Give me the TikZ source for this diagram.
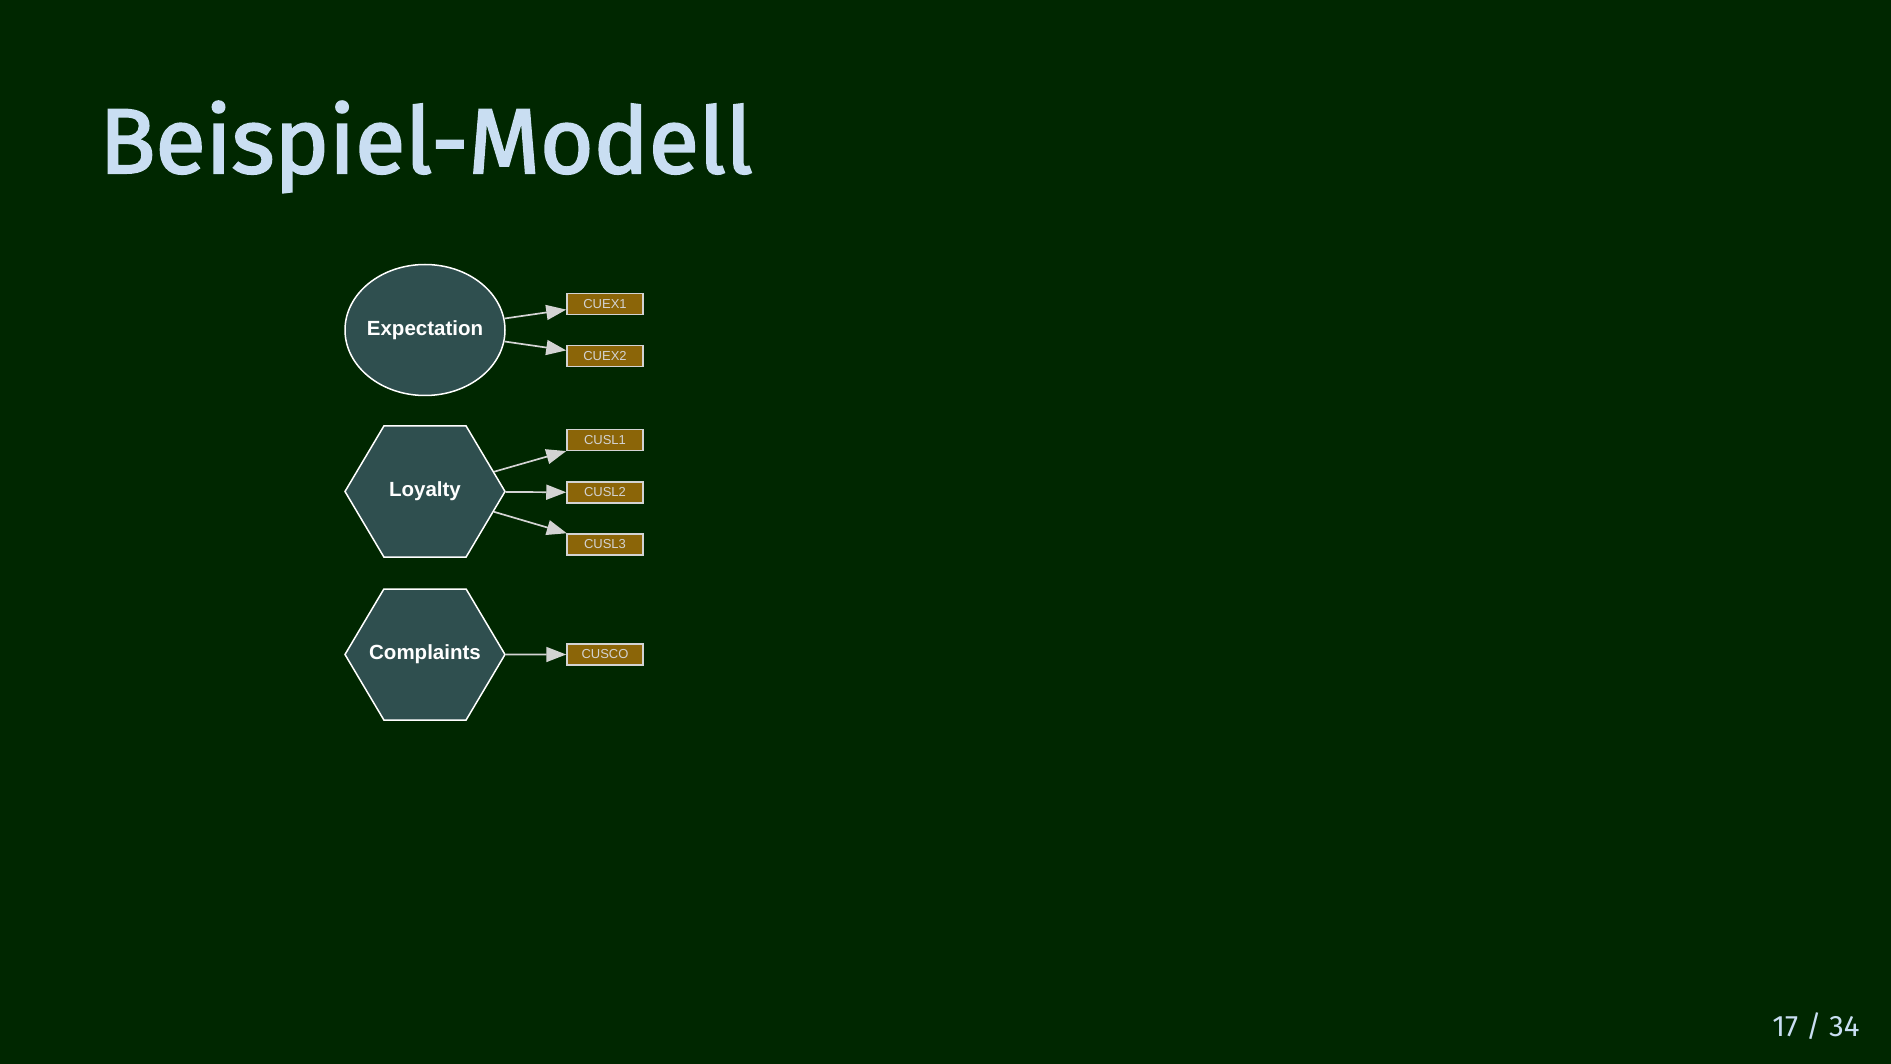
\documentclass[tikz,border=0pt]{standalone}
\usepackage{fontspec}
\setmainfont{Liberation Sans}
\newfontfamily\firafont{Fira Sans}
\newfontfamily\firatitle{Fira Sans}[FakeBold=2.2]
\usetikzlibrary{shapes.geometric,shapes.symbols,arrows.meta}
\definecolor{bg}{HTML}{002700}
\definecolor{titlecol}{HTML}{C9DEF2}
\definecolor{lvfill}{HTML}{2F4F4F}
\definecolor{mvfill}{HTML}{8B6508}
\definecolor{edgecol}{HTML}{D3D3D3}
\begin{document}
\begin{tikzpicture}[x=1pt,y=-1pt,
  latent/.style={fill=lvfill, draw=white, line width=1.5pt, text=white,
    font=\fontsize{20.5}{24}\selectfont\bfseries, inner sep=0pt},
  lvell/.style={latent, ellipse, minimum width=160pt, minimum height=131pt, inner xsep=-12pt},
  lvhex/.style={latent, signal, signal to=east and west, signal pointer angle=118.6,
    minimum width=160pt, minimum height=131pt, inner xsep=-30pt},
  manifest/.style={rectangle, fill=mvfill, draw=edgecol, line width=1.5pt, text=edgecol,
    font=\fontsize{13}{15}\selectfont, minimum width=76pt, minimum height=21pt, inner sep=0pt},
  load/.style={draw=edgecol, line width=1.7pt, -{Triangle[length=20pt,width=15pt]}}]
\fill[bg] (0,0) rectangle (1891,1064);
\useasboundingbox (0,0) rectangle (1891,1064);

\node[anchor=base west, text=titlecol, font=\firatitle\fontsize{92}{106}\selectfont] (title) at (96,173) {Beispiel-Modell};
\node[anchor=base east, text=titlecol, font=\firafont\fontsize{29.5}{34}\selectfont] (page) at (1863,1036) {17 / 34};

\node[lvell] (exp) at (425,330) {Expectation};
\node[lvhex] (loy) at (425,491.5) {Loyalty};
\node[lvhex] (com) at (425,654.5) {Complaints};

\node[manifest] (cuex1) at (605,304) {CUEX1};
\node[manifest] (cuex2) at (605,356) {CUEX2};
\node[manifest] (cusl1) at (605,440) {CUSL1};
\node[manifest] (cusl2) at (605,492.5) {CUSL2};
\node[manifest] (cusl3) at (605,544.5) {CUSL3};
\node[manifest] (cusco) at (605,654.5) {CUSCO};

\draw[load] (exp) -- (cuex1);
\draw[load] (exp) -- (cuex2);
\draw[load] (loy) -- (cusl1);
\draw[load] (loy) -- (cusl2);
\draw[load] (loy) -- (cusl3);
\draw[load] (com) -- (cusco);
\end{tikzpicture}
\end{document}
